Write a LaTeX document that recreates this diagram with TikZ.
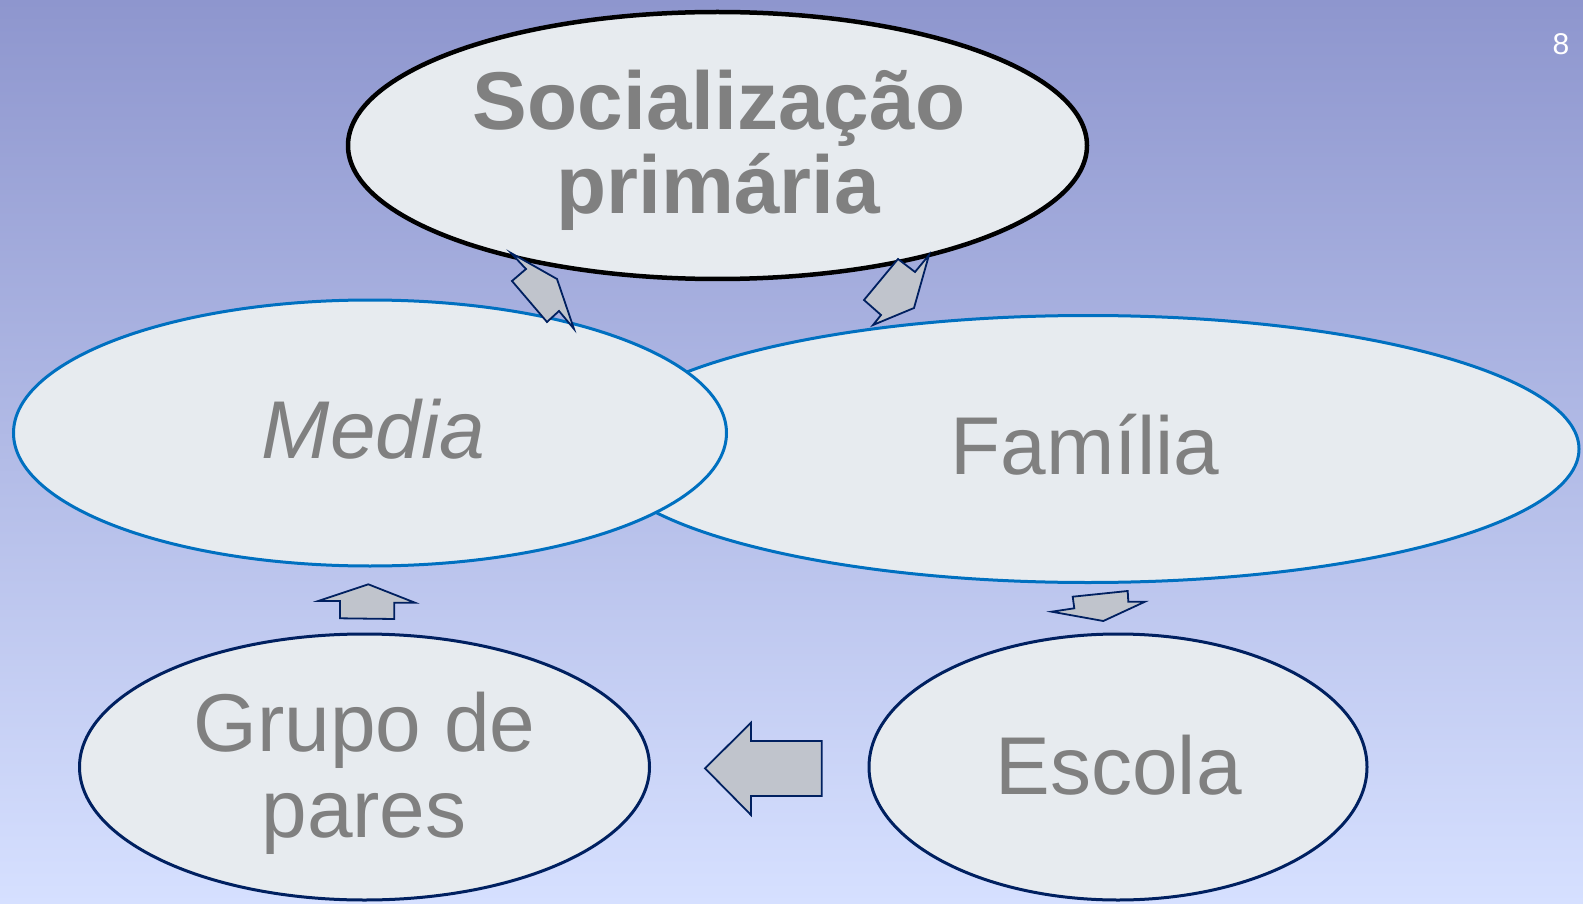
\documentclass[tikz,border=0pt]{standalone}
\usepackage{fontspec}
\setmainfont{Liberation Sans}
\usetikzlibrary{shapes.geometric}
\definecolor{bgtop}{RGB}{142,150,206}
\definecolor{bgbot}{RGB}{214,224,255}
\definecolor{efill}{RGB}{231,235,239}
\definecolor{txtgray}{RGB}{128,128,128}
\definecolor{blueline}{RGB}{0,112,192}
\definecolor{navyline}{RGB}{0,32,96}
\definecolor{arrfill}{RGB}{192,196,204}
\tikzset{
  bubble/.style={ellipse, fill=efill, inner sep=0pt},
  lbl/.style={anchor=base, text=txtgray, inner sep=0pt, font=\fontsize{82}{82}\selectfont},
  blockarrow/.style={fill=arrfill, draw=navyline, line width=1.8pt, line join=miter}
}
\begin{document}
\begin{tikzpicture}[x=1pt,y=-1pt]
\useasboundingbox (0,0) rectangle (1583,904);
\fill[top color=bgtop, bottom color=bgbot] (0,0) rectangle (1583,904);

% ellipses
\node[bubble, draw=blueline, line width=3pt, minimum width=982pt, minimum height=267pt] (fam) at (1088,449) {};
\node[bubble, draw=blueline, line width=3pt, minimum width=713pt, minimum height=266pt] (med) at (370,433) {};
\node[bubble, draw=black, line width=4.5pt, minimum width=739pt, minimum height=267pt] (soc) at (717.5,145.5) {};
\node[bubble, draw=navyline, line width=3pt, minimum width=570pt, minimum height=266pt] (gru) at (364.5,767) {};
\node[bubble, draw=navyline, line width=3pt, minimum width=498pt, minimum height=266pt] (esc) at (1118,767) {};

% block arrows
\draw[blockarrow] (511,253) -- (526,269) -- (512,281) -- (547,322) -- (559,311) -- (574,329) -- (557,279) -- cycle;
\draw[blockarrow] (898,259) -- (915,272) -- (929,255) -- (914,308) -- (873,325) -- (881,315) -- (864,300) -- cycle;
\draw[blockarrow] (368.3,584.3) -- (318.3,601) -- (340,601) -- (340,618.3) -- (394.3,619) -- (394.3,602.7) -- (415,602.7) -- cycle;
\draw[blockarrow] (1072.7,596.7) -- (1127.7,591) -- (1128.3,601.7) -- (1145,601.7) -- (1103.3,621) -- (1051.7,611.7) -- (1074.3,608.3) -- cycle;
\draw[blockarrow] (705,768.3) -- (751,722.7) -- (751,741) -- (821.7,741) -- (821.7,796) -- (751,796) -- (751,815) -- cycle;

% labels
\node[lbl, font=\fontsize{82}{82}\selectfont\bfseries] (soc1) at (719,129.3) {Socialização};
\node[lbl, font=\fontsize{82}{82}\selectfont\bfseries] (soc2) at (718.5,214) {primária};
\node[lbl, font=\fontsize{82}{82}\selectfont\itshape] (medt) at (373.5,458.5) {Media};
\node[lbl] (famt) at (1085,474) {Família};
\node[lbl] (esct) at (1118.6,794.5) {Escola};
\node[lbl] (gru1) at (364.5,751.7) {Grupo de};
\node[lbl] (gru2) at (364,837) {pares};
\node[anchor=base, text=white, inner sep=0pt, font=\fontsize{30}{30}\selectfont] (num) at (1561,55) {8};
\end{tikzpicture}
\end{document}
